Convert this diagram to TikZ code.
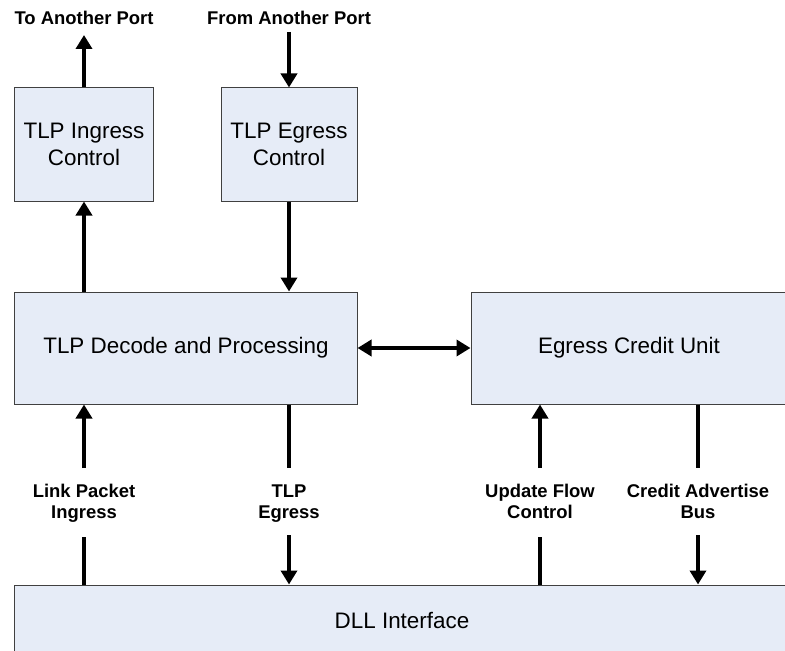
\documentclass[tikz,border=0pt]{standalone}
\usepackage{fontspec}
\setmainfont{Liberation Sans}
\usetikzlibrary{arrows.meta}
\definecolor{boxfill}{RGB}{230,236,247}
\definecolor{boxline}{RGB}{64,64,64}
\begin{document}
\begin{tikzpicture}[x=1bp,y=-1bp,
  blockbox/.style={draw=boxline,line width=1bp,fill=boxfill,rectangle,inner sep=0pt,align=center,font=\fontsize{22.5}{26.5}\selectfont},
  lbl/.style={font=\bfseries\fontsize{18.5}{21}\selectfont,align=center,inner sep=0pt},
  conn/.style={line width=4.5bp},
  arr/.style={conn,-{Triangle[length=14bp,width=16bp]}},
  darr/.style={conn,{Triangle[length=14bp,width=16bp]}-{Triangle[length=14bp,width=16bp]}}
]
\useasboundingbox (0,0) rectangle (785,651);
\node[blockbox,minimum width=138bp,minimum height=113bp] (ing) at (84,144.5) {TLP Ingress\\Control};
\node[blockbox,minimum width=136bp,minimum height=113bp] (egc) at (289,144.5) {TLP Egress\\Control};
\node[blockbox,minimum width=342bp,minimum height=112bp] (dec) at (186,348) {TLP Decode and Processing};
\node[blockbox,minimum width=330bp,minimum height=112bp] (ecu) at (636,348) {Egress Credit Unit\hspace*{14bp}};
\node[blockbox,minimum width=790bp,minimum height=70bp] (dll) at (410,620) {DLL Interface\hspace*{16bp}};

\node[lbl] (toport) at (84,18) {To Another Port};
\node[lbl] (fromport) at (289,18) {From Another Port};
\node[lbl] (lpi) at (84,504) {Link Packet\strut\\Ingress\strut};
\node[lbl] (tlpe) at (289,504) {TLP\strut\\Egress\strut};
\node[lbl] (ufc) at (540,504) {Update Flow\strut\\Control\strut};
\node[lbl] (cab) at (698,504) {Credit Advertise\strut\\Bus\strut};

\coordinate (toend) at (84,35);
\coordinate (fromstart) at (289,32);
\coordinate (lpiA) at (84,468);
\coordinate (lpiB) at (84,537);
\coordinate (tlpA) at (289,468);
\coordinate (tlpB) at (289,535);
\coordinate (ufcA) at (540,468);
\coordinate (ufcB) at (540,537);
\coordinate (cabA) at (698,468);
\coordinate (cabB) at (698,535);

\draw[arr] (ing.north) -- (toend);
\draw[arr] (fromstart) -- (egc.north);
\draw[arr] (dec.north -| ing.south) -- (ing.south);
\draw[arr] (egc.south) -- (dec.north -| egc.south);
\draw[darr] (dec.east) -- (ecu.west);

\draw[arr] (lpiA) -- (dec.south -| lpiA);
\draw[conn] (dll.north -| lpiB) -- (lpiB);
\draw[conn] (dec.south -| tlpA) -- (tlpA);
\draw[arr] (tlpB) -- (dll.north -| tlpB);
\draw[arr] (ufcA) -- (ecu.south -| ufcA);
\draw[conn] (dll.north -| ufcB) -- (ufcB);
\draw[conn] (ecu.south -| cabA) -- (cabA);
\draw[arr] (cabB) -- (dll.north -| cabB);
\end{tikzpicture}
\end{document}
